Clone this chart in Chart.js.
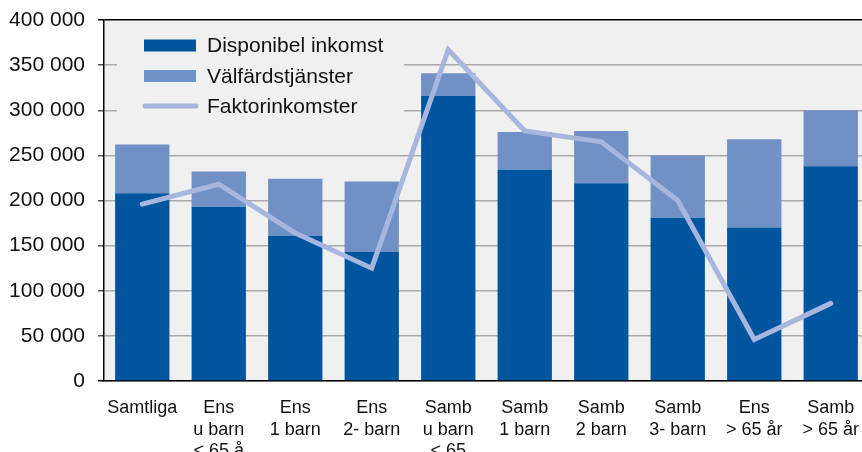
<!DOCTYPE html>
<html lang="sv">
<head>
  <meta charset="UTF-8">
  <title>Inkomster per hushållstyp</title>
  <script src="https://cdn.jsdelivr.net/npm/chart.js"></script>
  <style>
    html, body { margin: 0; padding: 0; background: #fff; overflow: hidden; }
    #wrap { position: absolute; left: 0; top: 0; width: 869px; height: 470px; }
  </style>
</head>
<body>
  <div id="wrap">
    <canvas id="myChart"></canvas>
  </div>

  <script>
    // data
    const categories = [
      ['Samtliga'],
      ['Ens', 'u barn', '< 65 å'],
      ['Ens', '1 barn'],
      ['Ens', '2- barn'],
      ['Samb', 'u barn', '< 65'],
      ['Samb', '1 barn'],
      ['Samb', '2 barn'],
      ['Samb', '3- barn'],
      ['Ens', '> 65 år'],
      ['Samb', '> 65 år']
    ];
    const disponibel = [208000, 193000, 161000, 143000, 316000, 234000, 219000, 181000, 170000, 238000];
    const valfard = [54000, 39000, 63000, 78000, 25000, 42000, 58000, 69000, 98000, 62000];
    const faktor = [196000, 218000, 164000, 125000, 367000, 277000, 265000, 200000, 46000, 86000];
    const yTicks = [0, 50000, 100000, 150000, 200000, 250000, 300000, 350000, 400000];

    const FONT = '"Liberation Sans", Arial, sans-serif';

    // grey plot background
    const plotBg = {
      id: 'plotBg',
      beforeDraw(chart) {
        const a = chart.chartArea, ctx = chart.ctx;
        ctx.save();
        ctx.fillStyle = '#f0f0f0';
        ctx.fillRect(a.left, a.top, a.right - a.left, a.bottom - a.top);
        ctx.restore();
      }
    };

    // legend box inside the plot, covering the grid lines
    const innerLegend = {
      id: 'innerLegend',
      beforeDatasetsDraw(chart) {
        const ctx = chart.ctx;
        const top = chart.chartArea.top;
        ctx.save();
        ctx.fillStyle = '#f0f0f0';
        ctx.fillRect(117, top + 2, 287, 100);
        ctx.font = '21px ' + FONT;
        ctx.textBaseline = 'middle';
        const rows = [45.5, 76, 106];
        chart.data.datasets.forEach((ds, i) => {
          const y = rows[i];
          if (ds.type === 'line') {
            ctx.strokeStyle = ds.borderColor;
            ctx.lineWidth = 5;
            ctx.lineCap = 'round';
            ctx.beginPath();
            ctx.moveTo(145, y);
            ctx.lineTo(196, y);
            ctx.stroke();
          } else {
            ctx.fillStyle = ds.backgroundColor;
            ctx.fillRect(144, y - 6, 52, 12);
          }
          ctx.fillStyle = '#111';
          ctx.fillText(ds.label, 207, y + 1);
        });
        ctx.restore();
      }
    };

    const ctx = document.getElementById('myChart').getContext('2d');
    new Chart(ctx, {
      data: {
        labels: categories,
        datasets: [
          {
            type: 'bar',
            label: 'Disponibel inkomst',
            data: disponibel,
            backgroundColor: '#00559f',
            stack: 'bars',
            order: 2
          },
          {
            type: 'bar',
            label: 'Välfärdstjänster',
            data: valfard,
            backgroundColor: '#7190c5',
            stack: 'bars',
            order: 2
          },
          {
            type: 'line',
            label: 'Faktorinkomster',
            data: faktor,
            borderColor: '#a7b6de',
            borderWidth: 5,
            borderCapStyle: 'round',
            borderJoinStyle: 'miter',
            pointRadius: 0,
            tension: 0,
            stack: 'line',
            order: 0
          }
        ]
      },
      options: {
        responsive: true,
        maintainAspectRatio: false,
        animation: false,
        layout: { padding: { top: 20, left: 0, right: 0, bottom: 0 } },
        plugins: {
          legend: { display: false },
          tooltip: { enabled: false }
        },
        datasets: {
          bar: { categoryPercentage: 1, barPercentage: 0.71 }
        },
        scales: {
          x: {
            stacked: true,
            grid: { display: false },
            border: { display: true, color: '#000', width: 1.5 },
            ticks: {
              color: '#111',
              font: { family: FONT, size: 18, lineHeight: 1.17 },
              padding: 9,
              maxRotation: 0,
              autoSkip: false
            },
            afterFit(scale) { scale.height = 89; }
          },
          y: {
            stacked: true,
            min: 0,
            max: 400000,
            afterBuildTicks(scale) { scale.ticks = yTicks.map(v => ({ value: v })); },
            grid: {
              color: c => (c.tick && c.tick.value === 400000) ? '#000' : '#a9a9a9',
              lineWidth: 1.5,
              tickLength: 6,
              tickColor: c => (c.tick && (c.tick.value === 400000 || c.tick.value === 0)) ? '#000' : '#555'
            },
            border: { display: true, color: '#000', width: 1.5 },
            ticks: {
              color: '#111',
              font: { family: FONT, size: 21 },
              padding: 13,
              callback: v => String(v).replace(/\B(?=(\d{3})+(?!\d))/g, ' ')
            },
            afterFit(scale) {
              scale.width = 104;
              scale.paddingTop = 0;
              scale.paddingBottom = 0;
            }
          }
        }
      },
      plugins: [plotBg, innerLegend]
    });
  </script>
</body>
</html>
